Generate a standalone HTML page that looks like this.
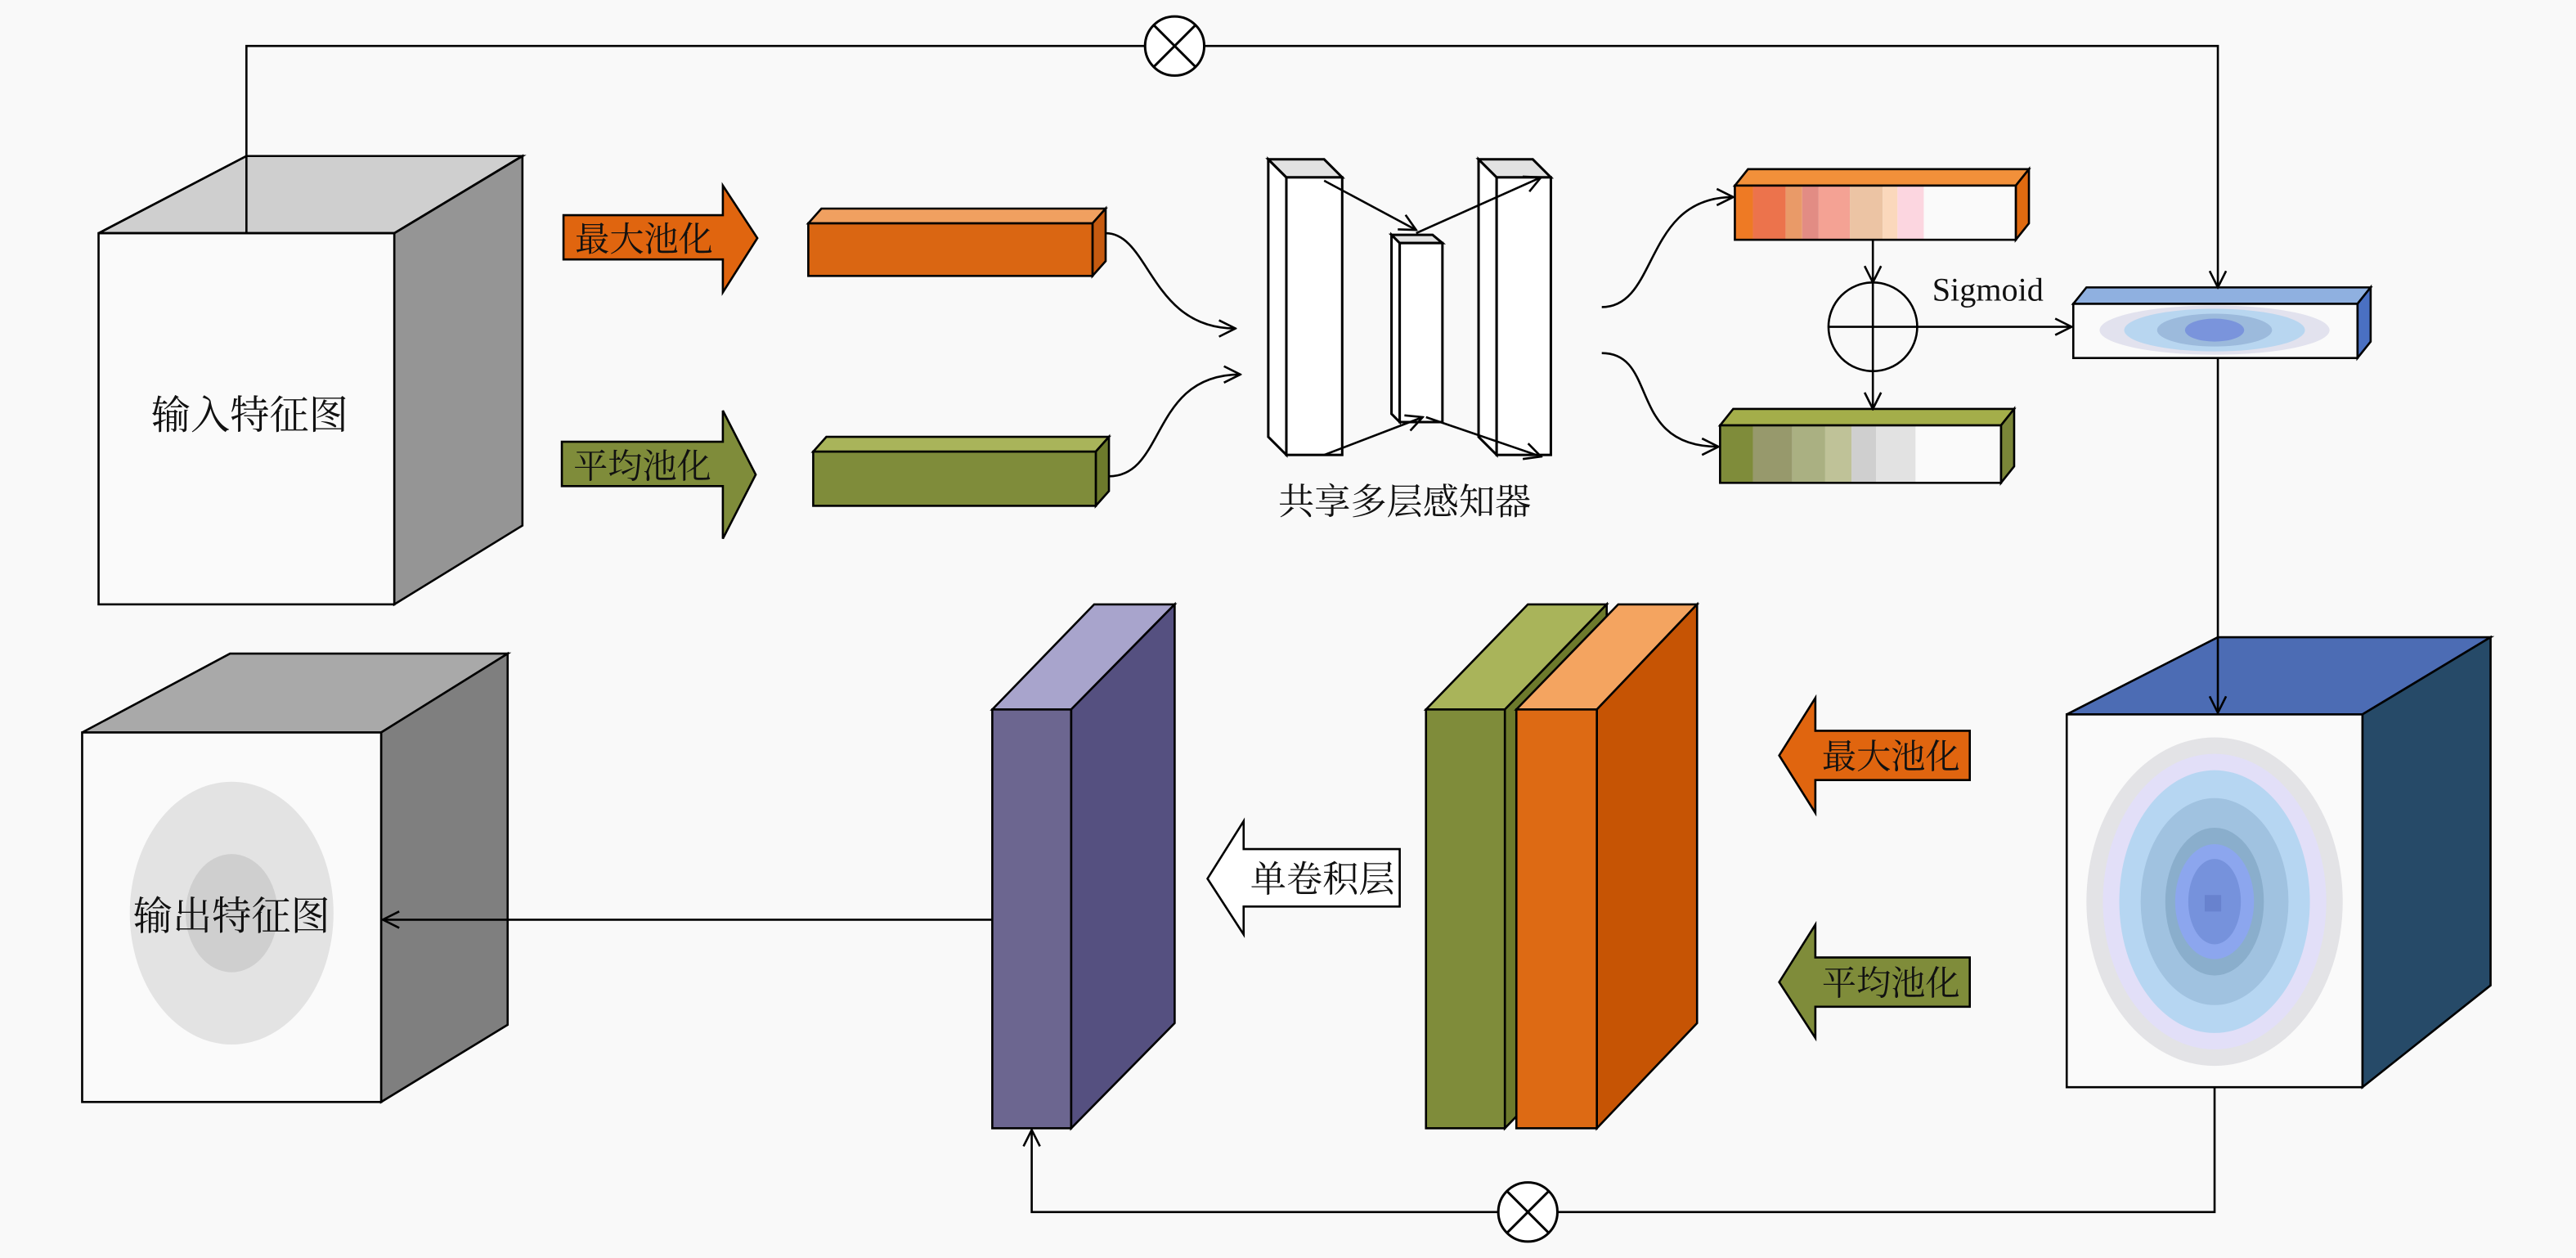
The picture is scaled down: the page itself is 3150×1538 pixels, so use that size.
<!DOCTYPE html>
<html><head><meta charset="utf-8"><style>
html,body{margin:0;padding:0;background:#f9f9f9;}
svg{display:block;}
text{font-family:"Liberation Serif","Noto Serif CJK SC","Noto Sans CJK SC",serif;fill:#111;}
</style></head><body>
<svg width="3150" height="1538" viewBox="0 0 1568 766" preserveAspectRatio="none" xmlns="http://www.w3.org/2000/svg">
<defs>
<marker id="a" viewBox="0 0 12 12" refX="11" refY="6" markerWidth="12" markerHeight="12" markerUnits="userSpaceOnUse" orient="auto">
<path d="M1,1 L11,6 L1,11" fill="none" stroke="#000" stroke-width="1.3"/></marker>
</defs>
<rect width="1568" height="766" fill="#f9f9f9"/>

<!-- input cube -->
<g stroke="#000" stroke-width="1.3">
<polygon points="60,142 150,95 318,95 240,142" fill="#cfcfcf"/>
<polygon points="240,142 318,95 318,320 240,368" fill="#959595"/>
<rect x="60" y="142" width="180" height="226" fill="#fafafa"/>
</g>
<text x="152" y="261" font-size="24" text-anchor="middle">输入特征图</text>

<!-- pooling arrows right -->
<polygon points="343,131 440,131 440,113 461,145 440,178 440,158 343,158" fill="#e0650f" stroke="#000" stroke-width="1.3"/>
<text x="392" y="153" font-size="21" text-anchor="middle">最大池化</text>
<polygon points="342,269 440,269 440,250 460,289 440,328 440,296 342,296" fill="#7f8c3a" stroke="#000" stroke-width="1.3"/>
<text x="391" y="291" font-size="21" text-anchor="middle">平均池化</text>

<!-- pooled bars -->
<g stroke="#000" stroke-width="1.3">
<polygon points="492,136 500,127 673,127 665,136" fill="#f0a060"/>
<polygon points="665,136 673,127 673,159 665,168" fill="#c65a10"/>
<rect x="492" y="136" width="173" height="32" fill="#da6612"/>
<polygon points="495,275 503,266 675,266 667,275" fill="#a9b45a"/>
<polygon points="667,275 675,266 675,299 667,308" fill="#6d7a2c"/>
<rect x="495" y="275" width="172" height="33" fill="#7f8c3a"/>
</g>

<!-- MLP -->
<g stroke="#000" stroke-width="1.5" fill="#fff">
<polygon points="772,97 783,108 783,277 772,266"/>
<polygon points="772,97 806,97 817,108 783,108" fill="#e2e2e2"/>
<rect x="783" y="108" width="34" height="169"/>
<polygon points="847,143 852,148 852,257 847,252"/>
<polygon points="847,143 872,143 878,148 852,148" fill="#e2e2e2"/>
<rect x="852" y="148" width="26" height="109"/>
<polygon points="900,97 911,108 911,277 900,266"/>
<polygon points="900,97 933,97 944,108 911,108" fill="#e2e2e2"/>
<rect x="911" y="108" width="33" height="169"/>
</g>
<text x="855" y="313" font-size="22" text-anchor="middle">共享多层感知器</text>

<!-- orange gradient bar -->
<polygon points="1056,113 1064,103 1235,103 1227,113" fill="#f2903a" stroke="#000" stroke-width="1.3"/>
<polygon points="1227,113 1235,103 1235,136 1227,146" fill="#e06a10" stroke="#000" stroke-width="1.3"/>
<g>
<rect x="1056" y="113" width="11" height="33" fill="#ee7a24"/>
<rect x="1067" y="113" width="20" height="33" fill="#ec734c"/>
<rect x="1087" y="113" width="10" height="33" fill="#e99a68"/>
<rect x="1097" y="113" width="10" height="33" fill="#e28c84"/>
<rect x="1107" y="113" width="19" height="33" fill="#f4a294"/>
<rect x="1126" y="113" width="20" height="33" fill="#ecc4a4"/>
<rect x="1146" y="113" width="9" height="33" fill="#fbd8bc"/>
<rect x="1155" y="113" width="16" height="33" fill="#fcd6e0"/>
<rect x="1171" y="113" width="56" height="33" fill="#fafafa"/>
</g>
<rect x="1056" y="113" width="171" height="33" fill="none" stroke="#000" stroke-width="1.3"/>

<!-- green gradient bar -->
<polygon points="1047,259 1055,249 1226,249 1218,259" fill="#a4ae4a" stroke="#000" stroke-width="1.3"/>
<polygon points="1218,259 1226,249 1226,284 1218,294" fill="#7a8538" stroke="#000" stroke-width="1.3"/>
<g>
<rect x="1047" y="259" width="20" height="35" fill="#7f8c3a"/>
<rect x="1067" y="259" width="24" height="35" fill="#97996c"/>
<rect x="1091" y="259" width="20" height="35" fill="#aab082"/>
<rect x="1111" y="259" width="16" height="35" fill="#bfc298"/>
<rect x="1127" y="259" width="15" height="35" fill="#cfcfcf"/>
<rect x="1142" y="259" width="24" height="35" fill="#e2e2e2"/>
<rect x="1166" y="259" width="52" height="35" fill="#fafafa"/>
</g>
<rect x="1047" y="259" width="171" height="35" fill="none" stroke="#000" stroke-width="1.3"/>

<text x="1210" y="183" font-size="20" text-anchor="middle">Sigmoid</text>

<!-- blue bar -->
<polygon points="1262,185 1270,175 1443,175 1435,185" fill="#8fb0e0" stroke="#000" stroke-width="1.3"/>
<polygon points="1435,185 1443,175 1443,208 1435,218" fill="#4a70c2" stroke="#000" stroke-width="1.3"/>
<rect x="1262" y="185" width="173" height="33" fill="#fafafa"/>
<ellipse cx="1348" cy="201" rx="70" ry="15" fill="#e2e2ee"/>
<ellipse cx="1348" cy="201" rx="55" ry="13" fill="#b8d6f0"/>
<ellipse cx="1348" cy="201" rx="35" ry="10" fill="#9cbadc"/>
<ellipse cx="1348" cy="201" rx="18" ry="7" fill="#7a94dc"/>
<rect x="1262" y="185" width="173" height="33" fill="none" stroke="#000" stroke-width="1.3"/>

<!-- blue cube -->
<g stroke="#000" stroke-width="1.3">
<polygon points="1258,435 1350,388 1516,388 1438,435" fill="#4c6cb4"/>
<polygon points="1438,435 1516,388 1516,600 1438,662" fill="#264a68"/>
<rect x="1258" y="435" width="180" height="227" fill="#fafafa"/>
</g>
<ellipse cx="1348" cy="549" rx="78" ry="100" fill="#e3e3e6"/>
<ellipse cx="1348" cy="549" rx="68" ry="90" fill="#e2dff8"/>
<ellipse cx="1348" cy="549" rx="58" ry="80" fill="#b6d6f2"/>
<ellipse cx="1348" cy="549" rx="45" ry="63" fill="#a0c2e0"/>
<ellipse cx="1348" cy="549" rx="30" ry="45" fill="#8aaecc"/>
<ellipse cx="1348" cy="549" rx="24" ry="35" fill="#8ca6ee"/>
<ellipse cx="1348" cy="549" rx="16" ry="26" fill="#7692dc"/>
<rect x="1342" y="545" width="10" height="10" fill="#6882ce"/>

<!-- left pooling arrows -->
<polygon points="1199,445 1105,445 1105,425 1083,460 1105,495 1105,475 1199,475" fill="#e0650f" stroke="#000" stroke-width="1.3"/>
<text x="1151" y="468" font-size="21" text-anchor="middle">最大池化</text>
<polygon points="1199,583 1105,583 1105,563 1083,598 1105,632 1105,613 1199,613" fill="#7f8c3a" stroke="#000" stroke-width="1.3"/>
<text x="1151" y="606" font-size="21" text-anchor="middle">平均池化</text>

<!-- green/orange blocks -->
<g stroke="#000" stroke-width="1.3">
<polygon points="868,432 930,368 978,368 916,432" fill="#a9b45a"/>
<polygon points="916,432 978,368 978,623 916,687" fill="#6d7a2c"/>
<rect x="868" y="432" width="48" height="255" fill="#7f8c3a"/>
<polygon points="923,432 985,368 1033,368 972,432" fill="#f4a460"/>
<polygon points="972,432 1033,368 1033,623 972,687" fill="#c65404"/>
<rect x="923" y="432" width="49" height="255" fill="#dd6a14"/>
</g>

<!-- purple block -->
<g stroke="#000" stroke-width="1.3">
<polygon points="604,432 666,368 715,368 652,432" fill="#a8a4cc"/>
<polygon points="652,432 715,368 715,623 652,687" fill="#555080"/>
<rect x="604" y="432" width="48" height="255" fill="#6c6690"/>
</g>

<!-- conv arrow -->
<polygon points="852,517 757,517 757,500 735,535 757,569 757,552 852,552" fill="#fff" stroke="#000" stroke-width="1.3"/>
<text x="805" y="543" font-size="22" text-anchor="middle">单卷积层</text>

<!-- output cube -->
<g stroke="#000" stroke-width="1.3">
<polygon points="50,446 140,398 309,398 232,446" fill="#a9a9a9"/>
<polygon points="232,446 309,398 309,624 232,671" fill="#7f7f7f"/>
<rect x="50" y="446" width="182" height="225" fill="#fafafa"/>
</g>
<ellipse cx="141" cy="556" rx="62" ry="80" fill="#e3e3e3"/>
<ellipse cx="141" cy="556" rx="28" ry="36" fill="#cfcfcf"/>
<text x="141" y="566" font-size="24" text-anchor="middle">输出特征图</text>

<!-- connectors on top -->
<g stroke="#000" stroke-width="1.3" fill="none">
<polygon points="60,142 150,95 318,95 240,142" fill="none"/>
<polyline points="150,142 150,28 697,28"/>
<polyline points="733,28 1350,28 1350,175" marker-end="url(#a)"/>
<line x1="1350" y1="218" x2="1350" y2="434" marker-end="url(#a)"/>
<polyline points="1348,662 1348,738 948,738"/>
<polyline points="912,738 628,738 628,688" marker-end="url(#a)"/>
<line x1="604" y1="560" x2="233" y2="560" marker-end="url(#a)"/>
<path d="M673,142 C700,142 700,200 752,200" marker-end="url(#a)"/>
<path d="M675,290 C710,290 700,228 755,228" marker-end="url(#a)"/>
<line x1="806" y1="110" x2="862" y2="140" marker-end="url(#a)"/>
<line x1="862" y1="142" x2="938" y2="108" marker-end="url(#a)"/>
<line x1="806" y1="277" x2="866" y2="254" marker-end="url(#a)"/>
<line x1="868" y1="254" x2="938" y2="278" marker-end="url(#a)"/>
<path d="M975,187 C1010,187 1000,120 1055,120" marker-end="url(#a)"/>
<path d="M975,215 C1010,215 990,272 1046,272" marker-end="url(#a)"/>
<line x1="1140" y1="146" x2="1140" y2="172" marker-end="url(#a)"/>
<line x1="1140" y1="226" x2="1140" y2="249" marker-end="url(#a)"/>
<ellipse cx="1140" cy="199" rx="27" ry="27"/>
<line x1="1140" y1="172" x2="1140" y2="226"/>
<line x1="1113" y1="199" x2="1261" y2="199" marker-end="url(#a)"/>
</g>
<g stroke="#000" stroke-width="1.5" fill="#fff">
<circle cx="715" cy="28" r="18"/><path d="M702,15 L728,41 M728,15 L702,41"/>
<circle cx="930" cy="738" r="18"/><path d="M917,725 L943,751 M943,725 L917,751"/>
</g>
</svg>
</body></html>
